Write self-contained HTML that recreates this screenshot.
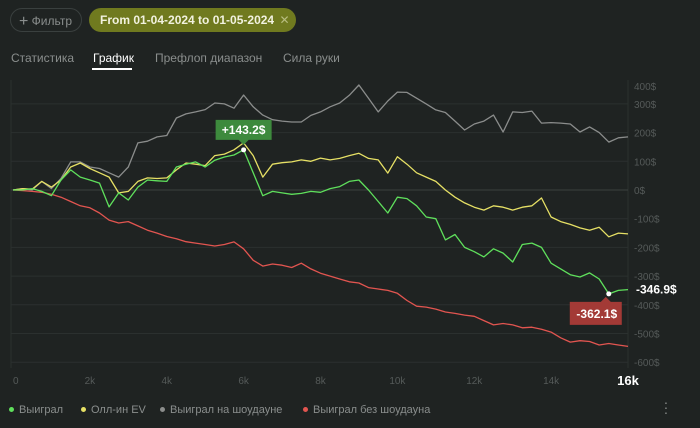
<!DOCTYPE html>
<html><head><meta charset="utf-8">
<style>
html,body{margin:0;padding:0;background:#1f2322;width:700px;height:428px;overflow:hidden;font-family:"Liberation Sans",sans-serif;}
.btn{position:absolute;top:8px;height:24px;border-radius:12px;box-sizing:border-box;font-size:12px;line-height:24px;white-space:nowrap;}
.tab{position:absolute;top:51px;font-size:12px;color:#8a8e8d;white-space:nowrap;}
.leg{position:absolute;top:404px;font-size:11px;color:#8a8e8d;white-space:nowrap;}
.dot{display:inline-block;width:5px;height:5px;border-radius:50%;margin-right:5px;vertical-align:middle;position:relative;top:-1px;}
</style></head><body>
<div class="btn" style="left:10px;width:72px;border:1px solid #3a403f;color:#8a8e8d;padding-left:8px;"><span style="font-size:16px;position:relative;top:1px;">+</span> Фильтр</div>
<div class="btn" style="left:89px;width:207px;background:#707a1f;color:#f2f2e0;padding-left:11px;font-weight:bold;">From 01-04-2024 to 01-05-2024 <span style="color:#b8bd80;font-weight:normal;margin-left:2px;">✕</span></div>
<div class="tab" style="left:11px;">Статистика</div>
<div class="tab" style="left:93px;color:#fff;">График</div>
<div style="position:absolute;left:92px;top:68px;width:40px;height:2px;background:#fff;"></div>
<div class="tab" style="left:155px;">Префлоп диапазон</div>
<div class="tab" style="left:283px;">Сила руки</div>

<svg id="chart" width="700" height="428" style="position:absolute;left:0;top:0;"></svg>

<div class="leg" style="left:9px;"><span class="dot" style="background:#5fe05c"></span>Выиграл</div>
<div class="leg" style="left:81px;"><span class="dot" style="background:#e6e065"></span>Олл-ин EV</div>
<div class="leg" style="left:160px;"><span class="dot" style="background:#8b8d8c"></span>Выиграл на шоудауне</div>
<div class="leg" style="left:303px;"><span class="dot" style="background:#e25550"></span>Выиграл без шоудауна</div>
<div style="position:absolute;left:662px;top:400px;color:#8a8e8d;font-size:14px;line-height:5px;width:8px;text-align:center;">·<br>·<br>·</div>

<script>
const hands = [0,16000];
const stepHands = 250;
const yTicks = [400,300,200,100,0,-100,-200,-300,-400,-500,-600];
const xTicks = [0,2000,4000,6000,8000,10000,12000,14000,16000];
const xTickLabels = ["0","2k","4k","6k","8k","10k","12k","14k","16k"];
const won = [0,0,5,-5,-20,35,70,45,35,24,-59,-10,-35,10,35,32,30,80,90,98,80,104,115,122,140,60,-20,-5,-10,-15,-12,-5,-8,5,12,30,35,0,-40,-80,-25,-30,-55,-94,-100,-174,-155,-200,-215,-233,-205,-220,-251,-190,-185,-200,-255,-275,-295,-303,-289,-310,-362,-350,-346.9];
const allinEv = [0,5,3,30,10,35,80,94,75,60,45,-10,-5,30,42,40,42,70,94,90,85,120,125,140,164,120,45,90,95,98,105,100,111,105,110,120,128,110,105,59,116,90,60,45,30,0,-25,-45,-60,-70,-55,-60,-70,-60,-55,-28,-94,-110,-120,-132,-140,-130,-163,-150,-153];
const showdown = [0,5,0,30,5,40,98,98,80,75,60,45,80,164,170,185,190,251,265,272,280,303,300,285,331,290,261,245,240,237,237,260,272,290,303,330,366,320,272,310,341,340,320,300,279,270,240,209,230,240,261,202,272,270,275,233,235,233,230,202,220,200,167,182,185];
const noShowdown = [0,-2,-5,-8,-15,-25,-40,-55,-62,-80,-105,-115,-110,-125,-140,-150,-162,-170,-180,-185,-190,-195,-190,-181,-205,-245,-265,-258,-262,-270,-255,-275,-290,-300,-310,-320,-324,-340,-345,-350,-360,-385,-405,-408,-415,-425,-430,-436,-440,-455,-470,-465,-470,-480,-478,-485,-495,-515,-530,-525,-528,-540,-535,-540,-545];
const maxLabel = "+143.2$";
const minLabel = "-362.1$";
const lastLabel = "-346.9$";

const X0=13,X1=628,Y0=190,PX=0.287;
const xs = h => X0 + (h-hands[0])/(hands[1]-hands[0])*(X1-X0);
const ys = v => Y0 - v*PX;
const svg = document.getElementById('chart');
const NS='http://www.w3.org/2000/svg';
function mk(t,a){const e=document.createElementNS(NS,t);for(const k in a)e.setAttribute(k,a[k]);svg.appendChild(e);return e;}

let e;
e=mk('line',{x1:11,y1:80,x2:11,y2:368,stroke:'#2b302f'});


e=mk('line',{x1:628,y1:80,x2:628,y2:368,stroke:'#2b302f'});


yTicks.forEach(v=>{
  const y=ys(v);
  if(y>80 && v!==400){
    e=mk('line',{x1:11,y1:y,x2:628,y2:y,stroke:v===0?'#3b403f':'#2b302f'});
    
    
  }
  e=mk('text',{x:634,y:Math.max(y,86)+4,fill:'#555a59','font-size':10});
  e.textContent=v+'$';
  
  
});
xTicks.forEach((h,i)=>{
  const last=i===xTicks.length-1;
  e=mk('text',{x:xs(h),y:last?385:384,fill:last?'#fff':'#555a59','font-size':last?13:10,'font-weight':last?'bold':'normal','text-anchor':i===0?'start':'middle'});
  e.textContent=xTickLabels[i];
  
  
});
function line(arr,color,name){
  const pts=arr.map((v,i)=>xs(i*stepHands).toFixed(1)+','+ys(v).toFixed(1)).join(' ');
  const p=mk('polyline',{points:pts,fill:'none',stroke:color,'stroke-width':1.3,'stroke-linejoin':'round'});
  
  
}
line(noShowdown,'#e25550','series-won-no-showdown');
line(showdown,'#8b8d8c','series-won-showdown');
line(allinEv,'#e6e065','series-allin-ev');
line(won,'#5fe05c','series-won');

let mi=0,ni=0;won.forEach((v,i)=>{if(v>won[mi])mi=i;if(v<won[ni])ni=i;});
const mx=xs(mi*stepHands),my=ys(won[mi]);
e=mk('circle',{cx:mx,cy:my,r:2.5,fill:'#fff'});


e=mk('path',{d:`M${mx-28},${my-30}h56v20h-23l-5,5l-5,-5h-23z`,fill:'#3d8a3d'});


e=mk('text',{x:mx,y:my-16,fill:'#fff','font-size':12,'font-weight':'bold','text-anchor':'middle'});
e.textContent=maxLabel;


const nx=xs(ni*stepHands),ny=ys(won[ni]);
e=mk('circle',{cx:nx,cy:ny,r:2.5,fill:'#fff'});


e=mk('path',{d:`M${nx-39},${ny+8}h31l5,-5l5,5h11v23h-52z`,fill:'#a33a36'});


e=mk('text',{x:nx-12,y:ny+24,fill:'#fff','font-size':12,'font-weight':'bold','text-anchor':'middle'});
e.textContent=minLabel;


e=mk('text',{x:636,y:ys(won[won.length-1])+4,fill:'#fff','font-size':12,'font-weight':'bold'});
e.textContent=lastLabel;


</script>
</body></html>
